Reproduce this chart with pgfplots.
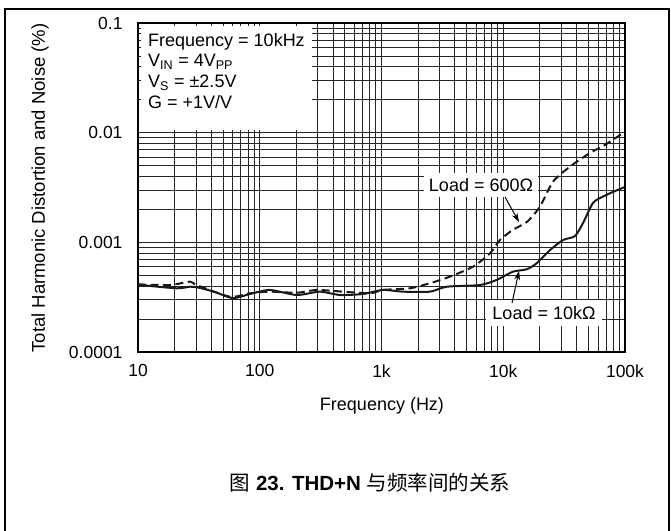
\documentclass[border=0pt]{standalone}
\usepackage{pgfplots}
\pgfplotsset{compat=1.18}
\usepackage{fontspec}
\setmainfont{Liberation Sans}
\newfontfamily\cjk{Noto Sans CJK SC}
\usetikzlibrary{arrows.meta}
\begin{document}
\begin{tikzpicture}[x=1bp,y=1bp]
\useasboundingbox (0,0) rectangle (671,531);
\draw[line width=1.2bp] (5,0) -- (5,522) -- (669,522) -- (669,0);
\begin{axis}[
  at={(138bp,179bp)}, anchor=south west,
  width=487bp, height=329bp, scale only axis,
  xmode=log, ymode=log,
  xmin=10, xmax=100000, ymin=0.0001, ymax=0.1,
  xtick={10,100,1000,10000,100000},
  xticklabels={10,100,1k,10k,100k},
  ytick={0.0001,0.001,0.01,0.1},
  yticklabels={0.0001,0.001,0.01,0.1},
  grid=both,
  major grid style={black!85, line width=0.9bp},
  minor grid style={black!85, line width=0.9bp},
  major tick length=0pt, minor tick length=0pt,
  axis line style={line width=2.5bp, black},
  tick label style={font=\fontsize{17.5bp}{20bp}\selectfont},
  xticklabel style={anchor=north, yshift=-9bp},
  yticklabel style={anchor=east, xshift=-12bp},
  /pgf/number format/assume math mode=true,
]
\addplot[line width=2bp, black!90, smooth, tension=0.4] coordinates {
(10,0.00041) (20.8,0.000381) (26.7,0.000394) (32.3,0.000384) (42.9,0.000352)
(60.3,0.000310) (83.2,0.000338) (121,0.000368) (201,0.000331) (312,0.000355)
(456,0.000331) (705,0.000338) (1028,0.000368) (1502,0.000355) (2500,0.000355)
(3436,0.000394) (6440,0.000408) (8830,0.000454) (12000,0.00054) (15600,0.000568)
(18800,0.000644) (24200,0.00085) (31000,0.00105) (38800,0.00114) (45200,0.0015)
(54600,0.00229) (65900,0.00261) (79600,0.00288) (100000,0.0032)
};
\addplot[line width=2bp, black!90, dash pattern=on 8bp off 4.5bp, smooth, tension=0.4] coordinates {
(10,0.000414) (18.3,0.000408) (26.7,0.000438) (30.3,0.000408) (57,0.000319)
(83,0.000343) (121,0.000355) (201,0.000347) (294,0.000368) (483,0.000355)
(805,0.000343) (1028,0.000368) (1714,0.000381) (2500,0.000424) (3656,0.000487)
(5650,0.0006) (7790,0.000794) (9400,0.00105) (12000,0.0013) (15700,0.00154)
(20000,0.00211) (25600,0.00357) (35300,0.0049) (51600,0.00653) (68500,0.00773)
(100000,0.0102)
};
\end{axis}
% legend box
\fill[white] (141,401) rectangle (312,505);
\begin{scope}[every node/.style={anchor=base west, inner sep=0pt, font=\fontsize{18bp}{20bp}\selectfont}]
\node at (148,484) {Frequency = 10kHz};
\node at (148,464) {V\textsubscript{IN} = 4V\textsubscript{PP}};
\node at (148,443) {V\textsubscript{S} = ±2.5V};
\node at (148,422) {G = +1V/V};
\end{scope}
% annotation labels
\node[fill=white, inner sep=5bp, font=\fontsize{18bp}{20bp}\selectfont] at (481,346) {Load = 600Ω};
\node[fill=white, inner sep=6bp, font=\fontsize{18bp}{20bp}\selectfont] at (544,218) {Load = 10kΩ};
\draw[line width=1bp, -{Stealth[length=9bp,width=6bp]}] (505,334) -- (519,309);
\draw[line width=1bp, -{Stealth[length=9bp,width=6bp]}] (512,228) -- (519,260);
% axis labels
\node[rotate=90, font=\fontsize{18.5bp}{20bp}\selectfont] at (40,343) {Total Harmonic Distortion and Noise (\%)};
\node[font=\fontsize{18bp}{20bp}\selectfont] at (382,125) {Frequency (Hz)};
\node[font=\fontsize{20.5bp}{24bp}\selectfont] at (370,48) {{\cjk 图} \textbf{23. THD+N} {\cjk 与频率间的关系}};
\end{tikzpicture}
\end{document}
